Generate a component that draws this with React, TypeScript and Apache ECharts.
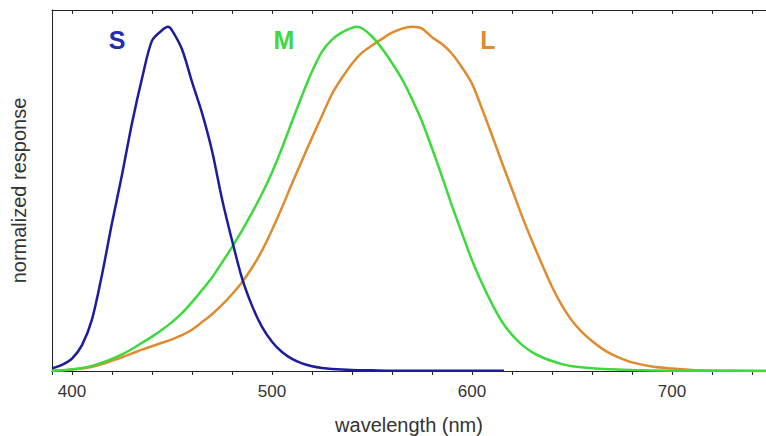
import React, { useEffect, useRef } from "react";
import * as echarts from "echarts";

// wavelength (nm) and normalized response for each cone type
const sWave = [390, 395, 400, 405, 410, 415, 420, 425, 430, 435, 440, 445, 448, 450, 455, 460, 465, 470, 475, 480, 485, 490, 495, 500, 505, 510, 515, 520, 525, 530, 540, 550, 560, 580, 600, 616];
const sResp = [0.008, 0.018, 0.036, 0.075, 0.15, 0.28, 0.43, 0.57, 0.72, 0.85, 0.96, 0.99, 1.0, 0.99, 0.935, 0.84, 0.75, 0.64, 0.5, 0.38, 0.27, 0.19, 0.128, 0.085, 0.055, 0.035, 0.022, 0.014, 0.009, 0.006, 0.003, 0.002, 0.001, 0.001, 0.001, 0.001];

const mWave = [390, 395, 400, 405, 410, 415, 420, 425, 430, 435, 440, 445, 450, 455, 460, 465, 470, 475, 480, 485, 490, 495, 500, 505, 510, 515, 520, 525, 530, 535, 540, 542, 545, 550, 555, 560, 565, 570, 575, 580, 585, 590, 595, 600, 605, 610, 615, 620, 625, 630, 635, 640, 645, 650, 660, 670, 680, 700, 747];
const mResp = [0.001, 0.002, 0.005, 0.009, 0.015, 0.024, 0.035, 0.048, 0.064, 0.082, 0.1, 0.12, 0.142, 0.168, 0.2, 0.235, 0.272, 0.315, 0.36, 0.408, 0.46, 0.515, 0.577, 0.648, 0.725, 0.8, 0.87, 0.928, 0.963, 0.984, 0.997, 1.0, 0.996, 0.972, 0.937, 0.895, 0.848, 0.79, 0.725, 0.647, 0.565, 0.48, 0.4, 0.322, 0.255, 0.195, 0.143, 0.105, 0.076, 0.055, 0.04, 0.029, 0.02, 0.014, 0.008, 0.005, 0.003, 0.001, 0];

const lWave = [390, 400, 405, 410, 415, 420, 425, 430, 435, 440, 445, 450, 455, 460, 465, 470, 475, 480, 485, 490, 495, 500, 505, 510, 515, 520, 525, 530, 535, 540, 545, 550, 555, 560, 565, 570, 575, 580, 585, 590, 595, 600, 605, 610, 615, 620, 625, 630, 635, 640, 645, 650, 655, 660, 665, 670, 675, 680, 690, 700, 710, 720, 747];
const lResp = [0.001, 0.004, 0.007, 0.012, 0.02, 0.03, 0.04, 0.051, 0.062, 0.072, 0.082, 0.092, 0.104, 0.12, 0.142, 0.165, 0.192, 0.223, 0.258, 0.3, 0.35, 0.41, 0.475, 0.545, 0.612, 0.678, 0.742, 0.805, 0.852, 0.893, 0.925, 0.946, 0.965, 0.983, 0.995, 1.0, 0.995, 0.97, 0.95, 0.922, 0.882, 0.835, 0.762, 0.685, 0.605, 0.528, 0.45, 0.378, 0.31, 0.245, 0.19, 0.146, 0.113, 0.087, 0.065, 0.048, 0.035, 0.025, 0.013, 0.007, 0.003, 0.0015, 0];

// curve name labels: [text, wavelength, response]
const curveLabels: [string, number, number][] = [
  ["S", 422.5, 0.962],
  ["M", 506, 0.962],
  ["L", 608, 0.962],
];

const xMin = 390;
const xMax = 747;
const yMax = 1.049;

const FONT = "'Liberation Sans', Arial, sans-serif";
const BLUE = "#1c1c9e";
const GREEN = "#3dd93d";
const ORANGE = "#e08c2e";

const zip = (xs: number[], ys: number[]) => xs.map((x, i) => [x, ys[i]]);

const labelPoint = (idx: number, color: string) => ({
  symbol: "circle",
  symbolSize: 0,
  silent: true,
  label: {
    show: true,
    position: "inside",
    formatter: curveLabels[idx][0],
    color,
    fontFamily: FONT,
    fontWeight: "bold",
    fontSize: 25,
  },
  data: [{ coord: [curveLabels[idx][1], curveLabels[idx][2]] }],
});

export default function App() {
  const ref = useRef<HTMLDivElement>(null);
  useEffect(() => {
    if (!ref.current) return;
    const chart = echarts.init(ref.current, null, { renderer: "svg" });
    const axisColor = "#222";
    chart.setOption({
      animation: false,
      backgroundColor: "#ffffff",
      grid: { left: 52, right: 0, top: 10, bottom: 65, containLabel: false, outerBoundsMode: "none" },
      xAxis: [
        {
          type: "value",
          position: "bottom",
          min: xMin,
          max: xMax,
          splitNumber: 5,
          name: "wavelength (nm)",
          nameLocation: "middle",
          nameGap: 44,
          nameTextStyle: { fontFamily: FONT, fontSize: 20, color: "#333" },
          axisLine: { show: true, lineStyle: { color: axisColor, width: 1 } },
          axisTick: { show: true, inside: false, length: 4, lineStyle: { color: axisColor } },
          minorTick: { show: true, splitNumber: 5, length: 4, lineStyle: { color: axisColor } },
          axisLabel: {
            show: true,
            margin: 12,
            showMinLabel: false,
            showMaxLabel: false,
            fontFamily: FONT,
            fontSize: 17,
            color: "#333",
          },
          splitLine: { show: false },
        },
        {
          type: "value",
          position: "top",
          min: xMin,
          max: xMax,
          splitNumber: 5,
          axisLine: { show: true, lineStyle: { color: axisColor, width: 1 } },
          axisTick: { show: true, inside: true, length: 4, lineStyle: { color: axisColor } },
          minorTick: { show: true, splitNumber: 5, length: 4, lineStyle: { color: axisColor } },
          axisLabel: { show: false },
          splitLine: { show: false },
        },
      ],
      yAxis: {
        type: "value",
        min: 0,
        max: yMax,
        name: "normalized response",
        nameLocation: "middle",
        nameGap: 23,
        nameTextStyle: { fontFamily: FONT, fontSize: 20, color: "#333" },
        axisLine: { show: true, lineStyle: { color: axisColor, width: 1 } },
        axisTick: { show: false },
        axisLabel: { show: false },
        splitLine: { show: false },
      },
      series: [
        {
          name: "L",
          type: "line",
          data: zip(lWave, lResp),
          showSymbol: false,
          smooth: 0.3,
          lineStyle: { color: ORANGE, width: 2.5 },
          markPoint: labelPoint(2, ORANGE),
        },
        {
          name: "M",
          type: "line",
          data: zip(mWave, mResp),
          showSymbol: false,
          smooth: 0.3,
          lineStyle: { color: GREEN, width: 2.5 },
          markPoint: labelPoint(1, GREEN),
        },
        {
          name: "S",
          type: "line",
          data: zip(sWave, sResp),
          showSymbol: false,
          smooth: 0.3,
          lineStyle: { color: BLUE, width: 2.5 },
          markPoint: labelPoint(0, "#1f2db4"),
        },
      ],
    });
    return () => chart.dispose();
  }, []);
  return (
    <div
      ref={ref}
      style={{ position: "fixed", left: 0, top: 0, width: 766, height: 436, background: "#fff" }}
    />
  );
}
